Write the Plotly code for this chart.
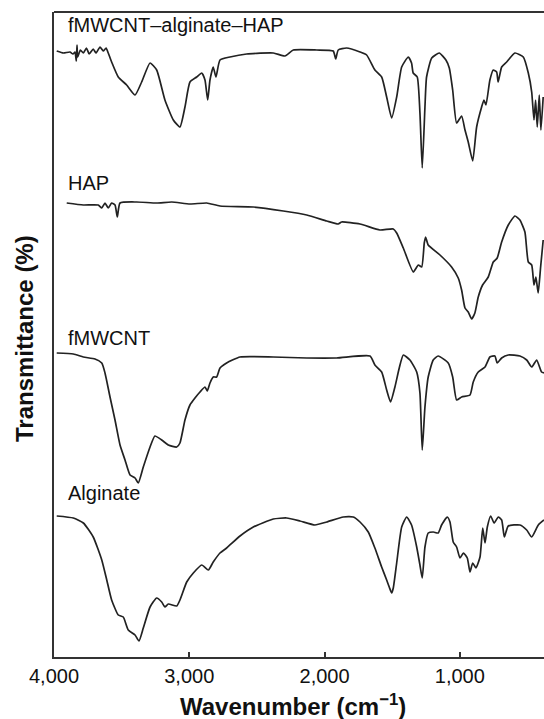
import plotly.graph_objects as go

# ---- data (wavenumber in cm^-1, transmittance in arbitrary offset units) ----
wn_composite = [3980, 3930, 3882, 3860, 3845, 3835, 3830, 3825, 3805, 3783, 3760, 3740, 3710, 3690,
                3660, 3636, 3615, 3599, 3574, 3525, 3463, 3401,
                3352, 3290, 3241, 3180, 3118, 3069, 3032, 2995, 2945, 2908, 2884, 2864, 2847, 2823,
                2803, 2773, 2699, 2576, 2379, 2293, 2231, 2058, 1936, 1918, 1899, 1837, 1738, 1689,
                1628, 1578, 1541, 1504, 1467, 1430, 1381, 1357, 1345, 1315, 1295, 1278, 1258, 1246,
                1208, 1152, 1103, 1078, 1053, 1024, 987, 962, 938, 905, 876, 839, 822, 807, 778, 753,
                728, 717, 691, 654, 593, 531, 494, 469, 452, 440, 428, 413, 401, 384]
t_composite = [606, 604, 605, 603, 605, 596, 612, 600, 607, 604, 609, 603, 608, 604,
               610, 606, 609, 604, 595, 580, 572, 562,
               575, 594, 587, 557, 537, 530, 550, 575, 580, 584, 577, 557, 577, 590,
               580, 597, 600, 603, 604, 601, 607, 607, 606, 598, 607, 609, 605, 602,
               587, 580, 560, 539, 560, 590, 600, 594, 584, 580, 544, 489, 550, 580,
               599, 604, 597, 589, 567, 534, 541, 527, 515, 496, 530, 550, 557, 552, 577, 587,
               585, 575, 590, 595, 604, 600, 584, 565, 537, 557, 530, 562, 527, 560]

wn_hap = [3906, 3783, 3673, 3647, 3623, 3599, 3574, 3549, 3532, 3512, 3389, 3241, 3130, 2995,
          2871, 2773, 2527, 2305, 2132, 1984, 1899, 1874, 1738, 1591, 1492, 1467, 1418, 1344,
          1307, 1282, 1263, 1253, 1234, 1147, 1061, 1012, 987, 962, 938, 913, 889, 864, 832,
          790, 753, 724, 691, 642, 593, 556, 519, 494, 469, 452, 438, 421, 403, 384]
t_hap = [454, 452, 452, 449, 454, 449, 454, 452, 440, 454, 455, 454, 455, 453,
         454, 451, 450, 446, 442, 436, 433, 435, 433, 427, 428, 424, 409, 385,
         392, 390, 414, 420, 412, 402, 390, 379, 367, 349, 345, 338, 344, 360, 372,
         380, 395, 399, 415, 432, 441, 437, 425, 395, 392, 372, 380, 364, 390, 417]

wn_fmwcnt = [3980, 3857, 3783, 3697, 3647, 3623, 3586, 3549, 3512, 3475, 3438, 3401, 3377, 3340,
             3290, 3254, 3204, 3155, 3093, 3069, 3032, 2995, 2958, 2921, 2884, 2867, 2847, 2823,
             2798, 2773, 2724, 2625, 2379, 2132, 1911, 1664, 1628, 1578, 1541, 1512, 1480, 1448,
             1418, 1369, 1319, 1295, 1278, 1258, 1234, 1197, 1160, 1086, 1053, 1024, 987, 925,
             901, 864, 814, 778, 741, 724, 691, 642, 556, 506, 469, 432, 396, 378]
t_fmwcnt = [304, 303, 300, 298, 294, 284, 260, 237, 212, 197, 182, 179, 174, 190,
            210, 221, 217, 212, 210, 214, 237, 252, 259, 265, 270, 266, 274, 280,
            280, 289, 294, 300, 300, 299, 299, 301, 292, 285, 267, 255, 270, 289,
            302, 297, 285, 264, 207, 250, 280, 297, 301, 294, 280, 257, 260, 262,
            275, 285, 290, 300, 301, 294, 299, 302, 301, 297, 290, 297, 285, 284]

wn_alginate = [3980, 3857, 3783, 3710, 3647, 3610, 3574, 3525, 3488, 3451, 3401, 3372, 3340, 3290,
               3241, 3204, 3180, 3155, 3093, 3069, 3019, 2970, 2908, 2859, 2823, 2773, 2724, 2625,
               2527, 2379, 2280, 2182, 2071, 1984, 1862, 1788, 1738, 1677, 1628, 1578, 1541, 1522,
               1504, 1492, 1467, 1430, 1393, 1357, 1319, 1295, 1278, 1258, 1234, 1197, 1160, 1135,
               1093, 1073, 1049, 1024, 999, 974, 945, 925, 905, 881, 851, 831, 814, 797, 772, 747,
               716, 691, 671, 642, 556, 506, 469, 420, 378]
t_alginate = [141, 139, 134, 120, 97, 77, 57, 42, 40, 27, 22, 16, 29, 50,
              59, 55, 50, 53, 51, 57, 75, 84, 92, 87, 95, 104, 109, 121,
              130, 138, 139, 136, 132, 135, 140, 140, 135, 125, 109, 90, 77, 70,
              64, 69, 94, 130, 140, 132, 110, 92, 79, 110, 124, 125, 124, 132,
              140, 135, 115, 110, 99, 104, 99, 85, 94, 89, 100, 129, 114, 130, 141, 134,
              140, 137, 120, 131, 132, 127, 120, 132, 137]

series_names = ["fMWCNT\u2013alginate\u2013HAP", "HAP", "fMWCNT", "Alginate"]
label_y = [632, 474, 319, 164]
label_x = 3911

x_tick_vals = [4000, 3000, 2000, 1000]
x_tick_text = ["4,000", "3,000", "2,000", "1,000"]

FONT = "Liberation Sans, Arial, Helvetica, sans-serif"
LINE_COLOR = "#222222"
AXIS_COLOR = "#333333"

fig = go.Figure()
for wn, t in [(wn_composite, t_composite), (wn_hap, t_hap),
              (wn_fmwcnt, t_fmwcnt), (wn_alginate, t_alginate)]:
    fig.add_trace(go.Scatter(x=wn, y=t, mode="lines",
                             line=dict(color=LINE_COLOR, width=1.7, shape="spline", smoothing=0.5),
                             showlegend=False, hoverinfo="skip"))

for name, ly in zip(series_names, label_y):
    fig.add_annotation(x=label_x, y=ly, xref="x", yref="y", text=name,
                       showarrow=False, xanchor="left", yanchor="middle",
                       font=dict(family=FONT, size=20, color="#111111"))

# axis titles
fig.add_annotation(x=0.488, y=0, xref="paper", yref="paper",
                   text="<b>Wavenumber (cm<sup>\u22121</sup>)</b>", showarrow=False,
                   xanchor="center", yanchor="middle", yshift=-48,
                   font=dict(family=FONT, size=24, color="#111111"))
fig.add_annotation(x=0, y=0.493, xref="paper", yref="paper",
                   text="<b>Transmittance (%)</b>", showarrow=False, textangle=-90,
                   xanchor="center", yanchor="middle", xshift=-30,
                   font=dict(family=FONT, size=24, color="#111111"))

# top border line
fig.add_shape(type="line", xref="paper", yref="paper", x0=0, x1=1, y0=1, y1=1,
              line=dict(color=AXIS_COLOR, width=2))

fig.update_xaxes(range=[4000, 378], tickvals=x_tick_vals, ticktext=x_tick_text,
                 showline=True, linecolor=AXIS_COLOR, linewidth=2,
                 ticks="inside", ticklen=5, tickwidth=1.5, tickcolor=AXIS_COLOR,
                 showgrid=False, zeroline=False,
                 tickfont=dict(family=FONT, size=20, color="#111111"))
fig.update_yaxes(range=[0, 645], showticklabels=False, ticks="",
                 showline=True, linecolor=AXIS_COLOR, linewidth=2,
                 showgrid=False, zeroline=False)

fig.update_layout(width=544, height=719,
                  margin=dict(l=54, r=0, t=12, b=62),
                  paper_bgcolor="white", plot_bgcolor="white",
                  font=dict(family=FONT))

fig.write_html("out.html")
